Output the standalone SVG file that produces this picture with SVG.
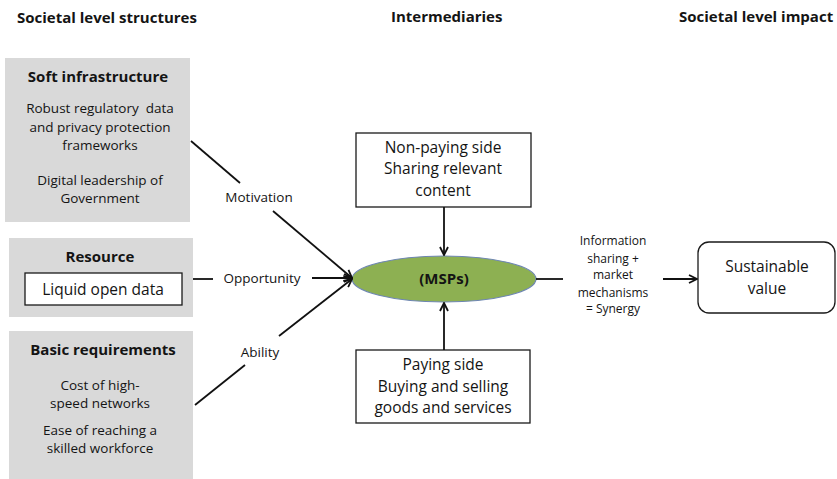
<svg xmlns="http://www.w3.org/2000/svg" width="837" height="479" viewBox="0 0 837 479">
<style>
.hdr{font-family:"Open Sans","Liberation Sans",sans-serif;font-weight:bold;font-size:15px;fill:#141414}
.ttl{font-family:"Open Sans","Liberation Sans",sans-serif;font-weight:bold;font-size:15px;fill:#141414;text-anchor:middle}
.txt{font-family:"Open Sans","Liberation Sans",sans-serif;font-size:13.5px;fill:#141414;text-anchor:middle}
.big{font-family:"Open Sans","Liberation Sans",sans-serif;font-size:15.5px;fill:#141414;text-anchor:middle}
.sm{font-family:"Open Sans","Liberation Sans",sans-serif;font-size:12px;fill:#141414;text-anchor:middle}
.gray{fill:#d9d9d9}
.box{fill:#ffffff;stroke:#1a1a1a;stroke-width:1.3}
.ln{stroke:#111;stroke-width:1.8;fill:none}
.arr{stroke:#111;stroke-width:1.8;fill:none;marker-end:url(#ah)}
</style>
<defs>
<marker id="ah" viewBox="0 0 10 10" refX="9" refY="5" markerWidth="10" markerHeight="10" markerUnits="userSpaceOnUse" orient="auto">
<path d="M1,1 L9,5 L1,9" fill="none" stroke="#111" stroke-width="1.8"/>
</marker>
</defs>
<rect width="837" height="479" fill="#ffffff"/>
<g id="headers">
<text class="hdr" x="17" y="23">Societal level structures</text>
<text class="hdr" x="391" y="22">Intermediaries</text>
<text class="hdr" x="679" y="22">Societal level impact</text>
</g>
<g id="soft-infrastructure">
<rect class="gray" x="5" y="58" width="185" height="164"/>
<text class="ttl" x="98" y="82">Soft infrastructure</text>
<text class="txt" x="100" y="113" xml:space="preserve">Robust regulatory  data</text>
<text class="txt" x="100" y="132">and privacy protection</text>
<text class="txt" x="100" y="150">frameworks</text>
<text class="txt" x="100" y="185">Digital leadership of</text>
<text class="txt" x="100" y="203">Government</text>
</g>
<g id="resource">
<rect class="gray" x="9" y="238" width="184" height="79"/>
<text class="ttl" x="100" y="262">Resource</text>
<rect class="box" x="25" y="273" width="157" height="32"/>
<text class="big" x="103" y="295">Liquid open data</text>
</g>
<g id="basic-requirements">
<rect class="gray" x="9" y="331" width="184" height="148"/>
<text class="ttl" x="103" y="355">Basic requirements</text>
<text class="txt" x="100" y="390">Cost of high-</text>
<text class="txt" x="100" y="408">speed networks</text>
<text class="txt" x="100" y="435">Ease of reaching a</text>
<text class="txt" x="100" y="453">skilled workforce</text>
</g>
<g id="non-paying-side">
<rect class="box" x="356" y="133" width="175" height="74"/>
<text class="big" x="443" y="153">Non-paying side</text>
<text class="big" x="443" y="174">Sharing relevant</text>
<text class="big" x="443" y="196">content</text>
</g>
<g id="msps">
<ellipse cx="444" cy="279" rx="92" ry="23" fill="#8db052" stroke="#6e86b2" stroke-width="1.2"/>
<text class="ttl" x="444" y="284">(MSPs)</text>
</g>
<g id="paying-side">
<rect class="box" x="356" y="350" width="174" height="73"/>
<text class="big" x="443" y="370">Paying side</text>
<text class="big" x="443" y="392">Buying and selling</text>
<text class="big" x="443" y="413">goods and services</text>
</g>
<g id="sustainable-value">
<rect class="box" x="698" y="242" width="137" height="71" rx="11" ry="11"/>
<text class="big" x="767" y="272">Sustainable</text>
<text class="big" x="767" y="294">value</text>
</g>
<g id="connectors">
<line class="ln" x1="191" y1="141" x2="240" y2="183"/>
<line class="arr" x1="273" y1="211" x2="352" y2="278"/>
<text class="txt" x="259" y="202">Motivation</text>
<line class="ln" x1="193" y1="279" x2="213" y2="279"/>
<line class="arr" x1="312" y1="278" x2="352" y2="278"/>
<text class="txt" x="262" y="283">Opportunity</text>
<line class="ln" x1="195" y1="405" x2="245" y2="365"/>
<line class="arr" x1="279" y1="336" x2="352" y2="279"/>
<text class="txt" x="260" y="357">Ability</text>
<line class="arr" x1="444" y1="207" x2="444" y2="255"/>
<line class="arr" x1="444" y1="350" x2="444" y2="303"/>
<line class="ln" x1="536" y1="279" x2="563" y2="279"/>
<line class="arr" x1="663" y1="279" x2="697" y2="279"/>
<text class="sm" x="613" y="245">Information</text>
<text class="sm" x="613" y="263">sharing +</text>
<text class="sm" x="613" y="279">market</text>
<text class="sm" x="613" y="297">mechanisms</text>
<text class="sm" x="613" y="313">= Synergy</text>
</g>
</svg>
